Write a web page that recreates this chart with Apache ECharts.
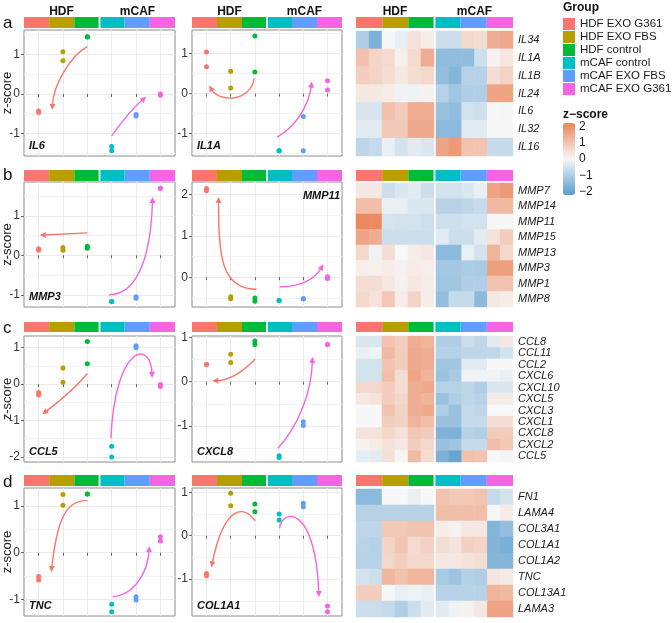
<!DOCTYPE html>
<html><head><meta charset="utf-8">
<script src="https://cdn.jsdelivr.net/npm/echarts@6/dist/echarts.min.js"></script>
<style>html,body{margin:0;padding:0;background:#fff}#c{width:672px;height:623px}</style>
</head><body><div id="c"></div>
<script>
// ---------- categories ----------
const GROUPS = ['HDF EXO G361','HDF EXO FBS','HDF control','mCAF control','mCAF EXO FBS','mCAF EXO G361'];
const GROUP_COLORS = ['#F8766D','#B79F00','#00BA38','#00BFC4','#619CFF','#F564E3'];
const SAMPLES = ['r1','r2','r3','r4','r5','r6'];
const Y_TICKS = [-2,-1,0,1,2];
const LEGEND_TICKS = [-2,-1,0,1,2];

// ---------- z-scores, 12 samples: 2 replicates x 6 groups ----------
const IL34  = [-1.0,-1.7, 0.0,-0.2, 0.4,0.2, -0.6,-0.6, 0.6,0.5, 1.4,1.5];
const IL1A  = [1.04,0.67, 0.56,0.14, 0.54,1.44, -1.43,-1.43, -1.43,-0.57, 0.09,0.32];
const IL1B  = [0.8,0.7, 0.5,0.3, 0.5,0.6, -1.4,-1.6, -0.9,-0.9, 0.5,0.7];
const IL24  = [0.3,0.3, 0.2,-0.1, -0.1,0.1, -0.9,-1.2, -1.0,-1.0, 1.6,1.6];
const IL6   = [-0.43,-0.47, 1.07,0.84, 1.45,1.44, -1.33,-1.44, -0.52,-0.56, 0.0,-0.03];
const IL32  = [-0.3,-0.3, 0.9,0.9, 1.5,1.5, -1.5,-1.5, -0.3,-0.3, 0.0,0.0];
const IL16  = [-0.8,-0.7, -0.2,-0.5, -0.3,-0.4, 1.6,1.8, 1.0,1.0, -0.7,-0.7];

const MMP7  = [0.3,0.3, -0.6,-0.4, -0.3,-0.6, -0.5,-0.5, -0.4,-0.2, 1.6,1.8];
const MMP14 = [1.1,1.1, -0.2,-0.2, -0.4,-0.4, -0.9,-0.9, -0.8,-0.7, 1.2,1.2];
const MMP11 = [2.14,2.09, -0.47,-0.52, -0.5,-0.58, -0.56,-0.56, -0.52,-0.52, 0.01,-0.03];
const MMP15 = [1.6,1.4, -0.6,-0.6, -0.6,-0.6, -0.3,-0.6, -0.6,-0.3, 0.4,0.8];
const MMP13 = [0.6,-0.1, 0.5,0.0, 0.2,0.3, -1.5,-1.5, -0.2,-0.5, 1.3,0.6];
const MMP3  = [0.17,0.13, 0.2,0.13, 0.23,0.18, -1.17,-1.17, -1.05,-1.09, 1.7,1.7];
const MMP1  = [0.5,0.5, 0.3,0.1, 0.3,0.2, -1.2,-1.2, -1.0,-1.0, 1.0,1.0];
const MMP8  = [0.6,0.4, 0.9,0.2, 0.7,0.2, -1.4,-0.7, -0.7,-1.5, 0.3,0.2];

const CCL8   = [-0.4,-0.4, 1.0,0.8, 1.4,1.3, -1.0,-1.0, -0.6,-0.8, -0.3,0.3];
const CCL11  = [-0.2,-0.1, 1.2,0.8, 1.5,1.4, -0.9,-0.9, -0.8,-0.8, -0.8,-0.5];
const CCL2   = [-0.5,-0.5, 1.0,0.8, 1.5,1.4, -1.2,-1.2, -0.3,-0.3, 0.0,0.0];
const CXCL6  = [-0.5,-0.5, 1.1,0.5, 1.6,1.3, -1.3,-1.1, -0.1,-0.1, -0.1,-0.2];
const CXCL10 = [0.6,0.6, 0.8,0.5, 1.4,1.5, -0.9,-0.9, -0.8,-1.0, -0.4,-0.4];
const CXCL5  = [0.3,0.4, 0.8,0.6, 1.4,1.3, -1.3,-1.0, -0.8,-0.9, 0.2,0.2];
const CXCL3  = [0.0,0.0, 1.0,0.7, 1.4,1.5, -1.0,-1.3, -0.7,-0.8, 0.0,0.0];
const CXCL1  = [0.0,0.0, 0.8,0.7, 1.3,1.1, -1.3,-1.3, -0.7,-0.7, 0.5,0.5];
const CXCL8  = [0.39,0.39, 0.62,0.43, 0.92,0.84, -1.67,-1.71, -0.9,-0.99, 0.84,0.84];
const CXCL2  = [0.1,0.2, 0.4,0.3, 0.8,0.6, -1.3,-1.2, -0.7,-0.7, 1.1,0.9];
const CCL5   = [-0.23,-0.3, 0.44,0.05, 1.17,0.56, -1.71,-2.0, 1.05,1.0, -0.01,-0.07];

const FN1     = [-1.5,-1.5, 0.0,0.0, -0.2,0.0, 1.0,0.9, 0.9,1.0, -0.7,-0.5];
const LAMA4   = [-0.9,-0.9, -0.9,-0.9, -0.9,-0.9, 1.1,1.1, 1.1,1.1, 0.0,0.2];
const COL3A1  = [-0.8,-0.8, 0.9,0.9, 1.0,1.0, 0.2,0.1, 0.3,0.3, -1.6,-1.4];
const COL1A1  = [-0.87,-0.92, 0.69,0.98, 0.55,0.73, 0.5,0.36, 0.75,0.67, -1.62,-1.75];
const COL1A2  = [-0.9,-0.9, 0.6,0.8, 0.6,0.6, 0.3,0.3, 0.4,0.5, -1.6,-1.6];
const TNC     = [-0.51,-0.58, 1.24,1.01, 1.25,1.25, -1.1,-1.26, -0.94,-1.01, 0.34,0.25];
const COL13A1 = [0.8,0.8, 0.0,-0.2, -0.1,-0.2, -0.9,-0.9, -0.9,-0.9, 1.3,1.2];
const LAMA3   = [-0.6,-0.6, -0.7,-1.0, -0.6,-0.3, -0.3,-0.1, 0.1,0.3, 1.6,1.6];

// heatmap row names and rows
const HM_A_GENES = ['IL34','IL1A','IL1B','IL24','IL6','IL32','IL16'];
const HM_A_ROWS  = [IL34, IL1A, IL1B, IL24, IL6, IL32, IL16];
const HM_B_GENES = ['MMP7','MMP14','MMP11','MMP15','MMP13','MMP3','MMP1','MMP8'];
const HM_B_ROWS  = [MMP7, MMP14, MMP11, MMP15, MMP13, MMP3, MMP1, MMP8];
const HM_C_GENES = ['CCL8','CCL11','CCL2','CXCL6','CXCL10','CXCL5','CXCL3','CXCL1','CXCL8','CXCL2','CCL5'];
const HM_C_ROWS  = [CCL8, CCL11, CCL2, CXCL6, CXCL10, CXCL5, CXCL3, CXCL1, CXCL8, CXCL2, CCL5];
const HM_D_GENES = ['FN1','LAMA4','COL3A1','COL1A1','COL1A2','TNC','COL13A1','LAMA3'];
const HM_D_ROWS  = [FN1, LAMA4, COL3A1, COL1A1, COL1A2, TNC, COL13A1, LAMA3];

// scatter genes and their y ranges
const SCATTER_GENES = [['IL6','IL1A'],['MMP3','MMP11'],['CCL5','CXCL8'],['TNC','COL1A1']];
const SCATTER_VALUES = [[IL6, IL1A],[MMP3, MMP11],[CCL5, CXCL8],[TNC, COL1A1]];
const Y_RANGES = [[[-1.57,1.62],[-1.56,1.59]],[[-1.31,1.86],[-0.72,2.3]],[[-2.14,1.32],[-1.81,1.03]],[[-1.35,1.38],[-1.85,1.1]]];

// trend arrows: start, control1, control2, end (group position, z-score), colour index
const ARROWS_IL6    = [[3.0,1.2, 2.37,0.99, 1.6,0.27, 1.56,-0.4, 0],[4.0,-1.06, 4.47,-0.66, 5.01,-0.28, 5.42,-0.07, 5]];
const ARROWS_IL1A   = [[2.97,0.38, 2.84,-0.2, 1.54,-0.24, 1.11,0.2, 0],[3.92,-1.09, 4.67,-0.82, 5.22,-0.33, 5.35,0.3, 5]];
const ARROWS_MMP3   = [[3.0,0.57, 2.3,0.55, 1.7,0.53, 1.05,0.51, 0],[3.9,-1.0, 5.15,-1.0, 5.62,0.13, 5.68,1.48, 5]];
const ARROWS_MMP11  = [[3.07,-0.29, 1.68,-0.29, 1.47,0.42, 1.5,1.94, 0],[4.03,-0.23, 4.94,-0.24, 5.49,-0.03, 5.83,0.31, 5]];
const ARROWS_CCL5   = [[3.0,0.29, 2.4,-0.2, 1.7,-0.55, 1.15,-0.83, 0],[3.97,-1.49, 4.13,1.07, 5.62,1.25, 5.66,0.17, 5]];
const ARROWS_CXCL8  = [[3.01,0.51, 2.49,0.19, 1.82,0.02, 1.24,0.02, 0],[3.96,-1.5, 4.81,-0.98, 5.35,-0.23, 5.38,0.56, 5]];
const ARROWS_TNC    = [[3.0,1.11, 2.03,1.14, 1.73,0.56, 1.52,-0.41, 0],[4.04,-0.94, 5.01,-0.9, 5.48,-0.37, 5.55,0.14, 5]];
const ARROWS_COL1A1 = [[3.01,0.34, 2.6,0.68, 1.75,0.78, 1.2,-0.73, 0],[4.02,0.17, 4.1,0.62, 5.5,0.75, 5.65,-1.41, 5]];
const SCATTER_ARROWS = [[ARROWS_IL6, ARROWS_IL1A],[ARROWS_MMP3, ARROWS_MMP11],[ARROWS_CCL5, ARROWS_CXCL8],[ARROWS_TNC, ARROWS_COL1A1]];

const PANEL_LETTERS = ['a','b','c','d'];
const SIDES = ['HDF','mCAF'];

// ---------- layout ----------
const FONT = "'Liberation Sans', Arial, Helvetica, sans-serif";
const LAYOUT = [
  {cbTop:17, cbH:11, top:30, h:126, hmTop:31, hmH:125, letterY:23, labelY:[146,146], labelRight:[false,false]},
  {cbTop:170, cbH:11, top:182, h:125, hmTop:183, hmH:124, letterY:175, labelY:[297,196], labelRight:[false,true]},
  {cbTop:322, cbH:10, top:336, h:126, hmTop:336, hmH:126, letterY:328, labelY:[452,452], labelRight:[false,false]},
  {cbTop:475, cbH:11, top:488, h:128, hmTop:489, hmH:128, letterY:482, labelY:[606,606], labelRight:[false,false]}
];
const COLS = [{left:24, width:151}, {left:192, width:150}];
const HM = [{left:356, width:78}, {left:436, width:77}];

const grids=[], xAxes=[], yAxes=[], series=[], graphics=[], hmSeries=[];
function addPair(grid, xa, ya){
  grid.outerBoundsMode = 'none'; grid.containLabel = false;
  grids.push(grid); const gi=grids.length-1; xa.gridIndex=gi; ya.gridIndex=gi; xAxes.push(xa); yAxes.push(ya); return gi;
}

function renderBar(params, api){
  const i = api.value(0);
  const c = api.coord([i, 0]);
  const w = api.size([1, 0])[0];
  const cs = params.coordSys;
  let x0 = c[0]-w/2, x1 = c[0]+w/2;
  if (i===2) x1 -= 0.9;
  if (i===3) x0 += 0.9;
  return {type:'rect', shape:{x:x0, y:cs.y, width:x1-x0, height:cs.height}, style:{fill:GROUP_COLORS[i]}};
}
function renderArrow(params, api){
  const p = [0,2,4,6].map(k => api.coord([api.value(k), api.value(k+1)]));
  const col = GROUP_COLORS[api.value(8)];
  const p2 = p[2], p3 = p[3];
  let dx = p3[0]-p2[0], dy = p3[1]-p2[1];
  let len = Math.sqrt(dx*dx+dy*dy) || 1;
  const ux=dx/len, uy=dy/len, L=6, W=3;
  const base=[p3[0]-ux*L, p3[1]-uy*L];
  const a=[base[0]-uy*W, base[1]+ux*W], b=[base[0]+uy*W, base[1]-ux*W];
  return {type:'group', children:[
    {type:'bezierCurve', shape:{x1:p[0][0],y1:p[0][1],cpx1:p[1][0],cpy1:p[1][1],cpx2:p2[0],cpy2:p2[1],x2:base[0]+ux*2,y2:base[1]+uy*2}, style:{stroke:col, fill:null, lineWidth:1.4}},
    {type:'polygon', shape:{points:[p3, a, b]}, style:{fill:col}}
  ]};
}

function colorBar(left, width, top, height){
  const gi = addPair({left, top, width, height, show:false},
    {type:'category', data:GROUPS, show:false},
    {type:'value', min:0, max:1, show:false});
  series.push({type:'custom', xAxisIndex:gi, yAxisIndex:gi, renderItem:renderBar, silent:true,
    data:GROUPS.map((g,i)=>[i,1]), encode:{x:0,y:1}});
}

function scatterPlot(left, width, top, height, vals, yr, arrows, showName){
  const ticks = Y_TICKS.filter(v => v>=yr[0] && v<=yr[1]);
  const gi = addPair({left, top, width, height, show:true, borderColor:'#8c8c8c', borderWidth:1, backgroundColor:'#fff'},
    {type:'value', min:0.4, max:6.6, minInterval:1, maxInterval:1,
     axisLine:{show:false}, axisTick:{show:true, length:3, customValues:[1,2,3,4,5,6], lineStyle:{color:'#666'}},
     axisLabel:{show:false}, splitLine:{show:true, lineStyle:{color:'#ebebeb', width:1}}},
    {type:'value', min:yr[0], max:yr[1], minInterval:1, maxInterval:1,
     axisLine:{show:false}, axisTick:{show:true, length:3, customValues:ticks, lineStyle:{color:'#666'}},
     axisLabel:{customValues:ticks, fontSize:12, color:'#333', margin:4, fontFamily:FONT},
     splitLine:{show:true, lineStyle:{color:'#ebebeb', width:1}},
     minorTick:{show:false, splitNumber:2}, minorSplitLine:{show:true, lineStyle:{color:'#f3f3f3', width:1}},
     name: showName ? 'z-score' : '', nameLocation:'middle', nameGap:10, nameRotate:90, nameMoveOverlap:false,
     nameTextStyle:{fontSize:13, color:'#222', fontFamily:FONT}});
  series.push({type:'custom', xAxisIndex:gi, yAxisIndex:gi, renderItem:renderArrow, silent:true, clip:false,
    data:arrows, encode:{x:[0,2,4,6], y:[1,3,5,7]}, z:2});
  GROUPS.forEach((g,k)=>{
    series.push({type:'scatter', name:g, xAxisIndex:gi, yAxisIndex:gi, symbolSize:5, silent:true,
      itemStyle:{color:GROUP_COLORS[k], opacity:1}, z:3,
      data:[vals[2*k], vals[2*k+1]].map(v=>[k+1, v])});
  });
}

function heatmap(top, height, genes, rows){
  [0,1].forEach(side=>{
    const gi = addPair({left:HM[side].left, top, width:HM[side].width, height, show:false},
      {type:'category', data:SAMPLES, show:false},
      {type:'category', data:genes, inverse:true, position:'right', show:side===1,
       axisLine:{show:false}, axisTick:{show:false},
       axisLabel:{interval:0, fontStyle:'italic', fontSize:11, color:'#1a1a1a', margin:5, fontFamily:FONT}});
    const data=[];
    rows.forEach((r,yi)=>{ for(let c=0;c<6;c++) data.push([c, yi, r[side*6+c]]); });
    series.push({type:'heatmap', xAxisIndex:gi, yAxisIndex:gi, data, silent:true});
    hmSeries.push(series.length-1);
  });
}

function text(x, y, t, o){
  graphics.push({type:'text', x, y, z:100, silent:true,
    style:Object.assign({text:t, fontFamily:FONT, fontSize:12, fill:'#1a1a1a',
      textAlign:'left', align:'left', textVerticalAlign:'middle', verticalAlign:'middle'}, o||{})});
}

const HM_GENES = [HM_A_GENES, HM_B_GENES, HM_C_GENES, HM_D_GENES];
const HM_ROWS = [HM_A_ROWS, HM_B_ROWS, HM_C_ROWS, HM_D_ROWS];

LAYOUT.forEach((L, p)=>{
  COLS.forEach((c, j)=>{
    colorBar(c.left, c.width, L.cbTop, L.cbH);
    scatterPlot(c.left, c.width, L.top, L.h, SCATTER_VALUES[p][j], Y_RANGES[p][j], SCATTER_ARROWS[p][j], j===0);
    const gx = L.labelRight[j] ? c.left + c.width - 2 : c.left + 5;
    text(gx, L.labelY[j], SCATTER_GENES[p][j], {fontWeight:'bold', fontStyle:'italic', fontSize:11,
      textAlign: L.labelRight[j] ? 'right':'left', align: L.labelRight[j] ? 'right':'left', fill:'#111'});
  });
  colorBar(HM[0].left, HM[1].left + HM[1].width - HM[0].left, L.cbTop, L.cbH);
  heatmap(L.hmTop, L.hmH, HM_GENES[p], HM_ROWS[p]);
  text(3, L.letterY, PANEL_LETTERS[p], {fontSize:17, fill:'#111'});
});

// headers
const HEAD_CENTERS = [[61.5,137.5],[229.5,304.5],[395,474.5]];
HEAD_CENTERS.forEach(hc => hc.forEach((x,k)=> text(x, 12, SIDES[k], {fontWeight:'bold', fontSize:12, textAlign:'center', align:'center', fill:'#111'})));

text(563, 8, 'Group', {fontWeight:'bold', fontSize:12, fill:'#111'});
text(563, 115, 'z\u2212score', {fontWeight:'bold', fontSize:12, fill:'#111'});

// legend colour-bar tick grid
const lg = addPair({left:563, top:123, width:12, height:72, show:false},
  {type:'value', min:0, max:1, show:false},
  {type:'value', min:-2.2, max:2.2, position:'right', z:10,
   axisLine:{show:false}, axisTick:{show:true, inside:true, length:3, customValues:LEGEND_TICKS, lineStyle:{color:'#fff', width:1}},
   axisLabel:{customValues:LEGEND_TICKS, fontSize:12, color:'#1a1a1a', margin:4, fontFamily:FONT,
     formatter:v=>String(v).replace('-', '\u2212')},
   splitLine:{show:false}});
series.push({type:'line', xAxisIndex:lg, yAxisIndex:lg, data:[], silent:true});

const option = {
  animation:false,
  textStyle:{fontFamily:FONT},
  grid:grids, xAxis:xAxes, yAxis:yAxes, series,
  graphic:{elements:graphics},
  legend:{data:GROUPS, orient:'vertical', left:563, top:18, icon:'rect', itemWidth:12, itemHeight:12, itemGap:1,
    padding:0, selectedMode:false, textStyle:{fontSize:11.5, color:'#1a1a1a', fontFamily:FONT, lineHeight:12}},
  visualMap:{type:'continuous', min:-2.2, max:2.2, seriesIndex:hmSeries, orient:'vertical', left:563, top:123,
    itemWidth:12, itemHeight:72, padding:0, calculable:false, text:null, hoverLink:false, realtime:false,
    inRange:{color:['#5A9DCF','#F7F7F7','#EB855A']}}
};
const chart = echarts.init(document.getElementById('c'), null, {renderer:'canvas'});
chart.setOption(option);
</script></body></html>
